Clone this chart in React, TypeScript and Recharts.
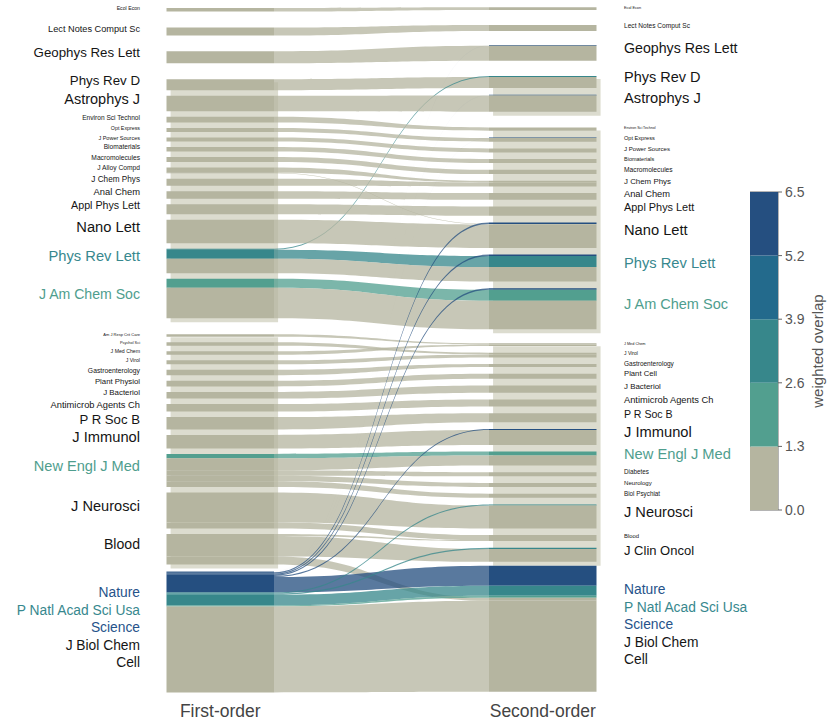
import React from 'react';
import { ComposedChart, Area, Scatter, XAxis, YAxis, BarChart, Bar, ReferenceArea } from 'recharts';

const FONT = '"Liberation Sans", Arial, Helvetica, sans-serif';
const TOP5 = 'Nature|P Natl Acad Sci Usa|Science|J Biol Chem|Cell';

const columnTitles = ['First-order', 'Second-order'];

const firstOrderModules: string[][] = [
  ['Ecol Econ'],
  ['Lect Notes Comput Sc'],
  ['Geophys Res Lett'],
  ['Phys Rev D', 'Astrophys J', 'Environ Sci Technol', 'Opt Express', 'J Power Sources', 'Biomaterials',
    'Macromolecules', 'J Alloy Compd', 'J Chem Phys', 'Anal Chem', 'Appl Phys Lett', 'Nano Lett',
    'Phys Rev Lett', 'J Am Chem Soc'],
  ['Am J Resp Crit Care', 'Psychol Sci', 'J Med Chem', 'J Virol', 'Gastroenterology', 'Plant Physiol',
    'J Bacteriol', 'Antimicrob Agents Ch', 'P R Soc B', 'J Immunol', 'New Engl J Med', 'J Neurosci', 'Blood'],
  [TOP5],
];

const secondOrderModules: string[][] = [
  ['Ecol Econ'],
  ['Lect Notes Comput Sc'],
  ['Geophys Res Lett'],
  ['Phys Rev D', 'Astrophys J'],
  ['Environ Sci Technol', 'Opt Express', 'J Power Sources', 'Biomaterials', 'Macromolecules', 'J Chem Phys',
    'Anal Chem', 'Appl Phys Lett', 'Nano Lett', 'Phys Rev Lett', 'J Am Chem Soc'],
  ['J Med Chem', 'J Virol', 'Gastroenterology', 'Plant Cell', 'J Bacteriol', 'Antimicrob Agents Ch', 'P R Soc B',
    'J Immunol', 'New Engl J Med', 'Diabetes', 'Neurology', 'Biol Psychiat', 'J Neurosci', 'Blood', 'J Clin Oncol'],
  [TOP5],
];

// [first-order journal, second-order journal, share at first order, share at second order, weighted overlap]
const flowRows: [string, string, number, number, number][] = [
  ['Ecol Econ', 'Ecol Econ', 3.6, 2.7, 0.6],
  ['Lect Notes Comput Sc', 'Lect Notes Comput Sc', 8, 6, 0.7],
  ['Geophys Res Lett', 'Geophys Res Lett', 12, 15, 0.9],
  ['Phys Rev D', 'Phys Rev D', 11, 11, 0.8],
  ['Phys Rev Lett', 'Phys Rev D', 1, 1, 3.1],
  ['Astrophys J', 'Astrophys J', 15.6, 16.3, 0.9],
  ['Environ Sci Technol', 'Environ Sci Technol', 5.8, 3.3, 0.4],
  ['Opt Express', 'Opt Express', 4, 3.6, 0.5],
  ['J Power Sources', 'J Power Sources', 4, 4, 0.4],
  ['Biomaterials', 'Biomaterials', 4.4, 4, 0.5],
  ['Macromolecules', 'Macromolecules', 4.9, 4.3, 0.6],
  ['J Alloy Compd', 'J Chem Phys', 5.3, 1.6, 0.3],
  ['J Alloy Compd', 'Nano Lett', 0.5, 0.5, 0.4],
  ['J Chem Phys', 'J Chem Phys', 7, 4, 0.8],
  ['Anal Chem', 'Anal Chem', 7.5, 6.6, 0.7],
  ['Appl Phys Lett', 'Appl Phys Lett', 10, 9.3, 0.9],
  ['Nano Lett', 'Nano Lett', 23.5, 23.5, 1.1],
  ['Phys Rev Lett', 'Phys Rev Lett', 9, 11, 3.4],
  ['Phys Rev Lett', 'Phys Rev Lett', 14.6, 14.5, 0.9],
  ['J Am Chem Soc', 'J Am Chem Soc', 9, 11, 2.1],
  ['J Am Chem Soc', 'J Am Chem Soc', 30.4, 28.5, 1.0],
  ['Am J Resp Crit Care', 'J Med Chem', 2.6, 1.2, 0.2],
  ['Psychol Sci', 'J Virol', 3.5, 1.7, 0.2],
  ['J Med Chem', 'J Med Chem', 3.5, 1.5, 0.5],
  ['J Virol', 'J Virol', 4, 3, 0.6],
  ['Gastroenterology', 'Gastroenterology', 5.5, 3, 0.6],
  ['Plant Physiol', 'Plant Cell', 5.6, 5, 0.5],
  ['J Bacteriol', 'J Bacteriol', 6.7, 7.3, 0.8],
  ['Antimicrob Agents Ch', 'Antimicrob Agents Ch', 7.5, 7, 0.8],
  ['P R Soc B', 'P R Soc B', 12.3, 9, 0.7],
  ['J Immunol', 'J Immunol', 13.5, 14.8, 1.0],
  ['New Engl J Med', 'New Engl J Med', 4.4, 4, 2.0],
  ['New Engl J Med', 'New Engl J Med', 12, 10, 0.9],
  ['New Engl J Med', 'Diabetes', 5.5, 4, 0.4],
  ['New Engl J Med', 'Neurology', 5.5, 4, 0.4],
  ['New Engl J Med', 'Biol Psychiat', 5.6, 4, 0.3],
  ['J Neurosci', 'J Neurosci', 30, 22.8, 1.1],
  ['J Neurosci', 'Blood', 6, 5, 0.3],
  ['Blood', 'Blood', 2, 1, 0.5],
  ['Blood', 'J Clin Oncol', 20.5, 12.8, 0.6],
  ['Blood', TOP5, 8, 3, 0.3],
  [TOP5, 'Geophys Res Lett', 0.3, 0.7, 6.0],
  [TOP5, 'Astrophys J', 0.3, 0.7, 5.9],
  [TOP5, 'Opt Express', 0.3, 0.7, 5.8],
  [TOP5, 'Nano Lett', 1.2, 1.5, 6.1],
  [TOP5, 'Phys Rev Lett', 1.2, 1.5, 6.2],
  [TOP5, 'J Am Chem Soc', 1.2, 1.5, 6.0],
  [TOP5, 'J Immunol', 1.2, 1.2, 5.9],
  [TOP5, TOP5, 15.3, 20, 6.3],
  [TOP5, 'J Neurosci', 1.2, 1.2, 3.2],
  [TOP5, 'J Clin Oncol', 1.2, 1.2, 3.0],
  [TOP5, TOP5, 10.6, 10, 3.5],
  [TOP5, TOP5, 1, 2, 2.0],
  [TOP5, TOP5, 86, 91, 0.8],
];

// journal-level weighted overlap (label colour)
const journalOverlap: Record<string, number> = {
  'Phys Rev Lett': 3.4,
  'J Am Chem Soc': 2.1,
  'New Engl J Med': 2.0,
  Nature: 6.1,
  'P Natl Acad Sci Usa': 3.3,
  Science: 5.6,
};

const overlapBreaks = [0, 1.3, 2.6, 3.9, 5.2, 6.5];

// ---------- styling / layout ----------
const CLASS_COLORS = ['#b5b5a0', '#529f8f', '#37878b', '#236a8c', '#254f80'];
const LABEL_COLORS = ['#151515', '#4f9e8e', '#37888e', '#236a8c', '#26538a'];
const SHADOW = '#dcdccf';
const COL_X = [[-0.5, 0], [1, 1.5]];
const SHADOW_DX = 0.019;
const START_Y = [8, 7.3];
const NODE_GAP = [5.5, 6.7];
const MODULE_GAP = [[16, 15.6, 16, 16, 7], [15, 14, 15.3, 15.7, 14, 4]];
const LIST_FS = 13.8;
const LABEL_FS: Record<string, number>[] = [
  {
    'Ecol Econ': 5.2, 'Lect Notes Comput Sc': 9.2, 'Geophys Res Lett': 13.3, 'Phys Rev D': 13.3, 'Astrophys J': 14.5,
    'Environ Sci Technol': 6.6, 'Opt Express': 5.3, 'J Power Sources': 5.5, Biomaterials: 6.6, Macromolecules: 6.7,
    'J Alloy Compd': 6.7, 'J Chem Phys': 8.2, 'Anal Chem': 9.4, 'Appl Phys Lett': 10.7, 'Nano Lett': 14.7,
    'Phys Rev Lett': 14.7, 'J Am Chem Soc': 14.1, 'Am J Resp Crit Care': 4, 'Psychol Sci': 3.9, 'J Med Chem': 5.2,
    'J Virol': 5.2, Gastroenterology: 6.8, 'Plant Physiol': 7.8, 'J Bacteriol': 7.9, 'Antimicrob Agents Ch': 9.3,
    'P R Soc B': 13.2, 'J Immunol': 14.7, 'New Engl J Med': 14.6, 'J Neurosci': 14.6, Blood: 14.1,
  },
  {
    'Ecol Econ': 3.8, 'Lect Notes Comput Sc': 6.6, 'Geophys Res Lett': 14.2, 'Phys Rev D': 14.5, 'Astrophys J': 14.7,
    'Environ Sci Technol': 3.6, 'Opt Express': 5.6, 'J Power Sources': 6.1, Biomaterials: 5.5, Macromolecules: 6.7,
    'J Chem Phys': 7.9, 'Anal Chem': 9.3, 'Appl Phys Lett': 10.9, 'Nano Lett': 14.7, 'Phys Rev Lett': 14.7,
    'J Am Chem Soc': 14.5, 'J Med Chem': 3.8, 'J Virol': 5, Gastroenterology: 6.5, 'Plant Cell': 7.7, 'J Bacteriol': 7.9,
    'Antimicrob Agents Ch': 9.3, 'P R Soc B': 10.6, 'J Immunol': 14.7, 'New Engl J Med': 14.7, Diabetes: 6.3,
    Neurology: 6.1, 'Biol Psychiat': 6.3, 'J Neurosci': 14.6, Blood: 5.9, 'J Clin Oncol': 13,
  },
];

const classOf = (v: number) => Math.min(4, Math.floor(v / 1.3));

type Flow = { s: string; t: string; wl: number; wr: number; ov: number; i: number; cls: number; ly0?: number; ly1?: number; ry0?: number; ry1?: number };
type NodeBox = { name: string; y0: number; y1: number };

const flows: Flow[] = flowRows.map(([s, t, wl, wr, ov], i) => ({ s, t, wl, wr, ov, i, cls: classOf(ov) }));

function sizes(side: number) {
  const m = new Map<string, number>();
  flows.forEach((f) => {
    const k = side === 0 ? f.s : f.t;
    m.set(k, (m.get(k) || 0) + (side === 0 ? f.wl : f.wr));
  });
  return m;
}

function layout(side: number, modules: string[][]) {
  const sz = sizes(side);
  const nodes: NodeBox[] = [];
  const mods: { top: number; bottom: number; count: number }[] = [];
  let y = START_Y[side];
  modules.forEach((mod, mi) => {
    if (mi > 0) y += MODULE_GAP[side][mi - 1];
    const top = y;
    mod.forEach((name, ni) => {
      if (ni > 0) y += NODE_GAP[side];
      const h = sz.get(name) || 0;
      nodes.push({ name, y0: y, y1: y + h });
      y += h;
    });
    mods.push({ top, bottom: y, count: mod.length });
  });
  return { nodes, mods };
}

const cols = [layout(0, firstOrderModules), layout(1, secondOrderModules)];

// assign flow segment positions inside nodes
const segments: { side: number; y0: number; y1: number; cls: number }[] = [];
cols.forEach((col, side) => {
  col.nodes.forEach((n) => {
    const fl = flows
      .filter((f) => (side === 0 ? f.s : f.t) === n.name)
      .sort((a, b) => b.cls - a.cls || a.i - b.i);
    let y = n.y0;
    fl.forEach((f) => {
      const w = side === 0 ? f.wl : f.wr;
      if (side === 0) { f.ly0 = y; f.ly1 = y + w; } else { f.ry0 = y; f.ry1 = y + w; }
      segments.push({ side, y0: y, y1: y + w, cls: f.cls });
      y += w;
    });
  });
});

const labelRows: { x: number; y: number; text: string; fs: number; color: string; side: number }[] = [];
cols.forEach((col, side) => {
  col.nodes.forEach((n) => {
    const names = n.name.split('|');
    const c = (n.y0 + n.y1) / 2;
    const h = n.y1 - n.y0;
    names.forEach((nm, k) => {
      const fs = names.length > 1 ? LIST_FS : LABEL_FS[side][nm] ?? Math.min(14.7, h + 1.5);
      labelRows.push({
        x: side === 0 ? COL_X[0][0] : COL_X[1][1],
        y: c + (k - (names.length - 1) / 2) * 17.5 + 0.02 * fs,
        text: nm,
        fs,
        color: LABEL_COLORS[classOf(journalOverlap[nm] || 0)],
        side,
      });
    });
  });
});

const renderLabel = (p: any) => {
  const d = p.payload;
  return (
    <text
      x={p.cx + (d.side === 0 ? -26.5 : 27.5)}
      y={p.cy}
      textAnchor={d.side === 0 ? 'end' : 'start'}
      fontSize={d.fs}
      fill={d.color}
      fontFamily={FONT}
    >
      {d.text}
    </text>
  );
};

const common = { isAnimationActive: false, dot: false, activeDot: false, stroke: 'none', dataKey: 'v' } as const;

const cbRow: Record<string, any> = { name: 'c' };
overlapBreaks.slice(1).forEach((b, i) => { cbRow['b' + i] = b - overlapBreaks[i]; });
const cbData = [cbRow];

export default function App() {
  return (
    <div style={{ position: 'absolute', left: 0, top: 0, width: 830, height: 722, background: '#fff' }}>
      <ComposedChart width={830} height={722} margin={{ top: 0, right: 229.2, bottom: 0, left: 166.5 }}>
        <XAxis
          type="number"
          dataKey="x"
          domain={[-0.5, 1.52]}
          ticks={[-0.25, 1.25]}
          interval={0}
          tickFormatter={(v: number) => (v < 0.5 ? columnTitles[0] : columnTitles[1])}
          axisLine={false}
          tickLine={false}
          tickSize={0}
          tickMargin={5}
          height={22}
          tick={{ fontSize: 17.5, fill: '#444', fontFamily: FONT }}
        />
        <YAxis type="number" domain={[0, 700]} reversed hide />
        {cols.map((col, side) =>
          col.mods
            .filter((m) => m.count > 1)
            .map((m, k) => (
              <Area
                key={`sh${side}-${k}`}
                {...common}
                type="linear"
                data={[
                  { x: COL_X[side][0] + SHADOW_DX, v: [m.top + 3, m.bottom + 4] },
                  { x: COL_X[side][1] + SHADOW_DX, v: [m.top + 3, m.bottom + 4] },
                ]}
                fill={SHADOW}
                fillOpacity={1}
              />
            ))
        )}
        {flows.map((f) => {
          const faint = f.cls >= 1 && Math.max(f.wl, f.wr) < 1;
          return (
            <Area
              key={`f${f.i}`}
              {...common}
              type="bumpX"
              data={[
                { x: COL_X[0][1], v: [f.ly0, f.ly1] },
                { x: COL_X[1][0], v: [f.ry0, f.ry1] },
              ]}
              fill={CLASS_COLORS[f.cls]}
              fillOpacity={faint ? 0.03 : 0.76}
            />
          );
        })}
        {segments.map((s, k) => (
          <Area
            key={`s${k}`}
            {...common}
            type="linear"
            data={[
              { x: COL_X[s.side][0], v: [s.y0, s.y1] },
              { x: COL_X[s.side][1], v: [s.y0, s.y1] },
            ]}
            fill={CLASS_COLORS[s.cls]}
            fillOpacity={1}
          />
        ))}
        <Scatter data={labelRows} dataKey="y" shape={renderLabel} isAnimationActive={false} />
      </ComposedChart>
      <div style={{ position: 'absolute', left: 750, top: 184 }}>
        <BarChart width={80} height={334} data={cbData} margin={{ top: 8, right: 0, bottom: 8, left: 0 }} barCategoryGap={0}>
          <XAxis dataKey="name" hide />
          <YAxis
            type="number"
            orientation="right"
            domain={[0, 6.5]}
            ticks={overlapBreaks}
            interval={0}
            tickFormatter={(v: number) => v.toFixed(1)}
            axisLine={false}
            tickLine={{ stroke: '#666' }}
            tickSize={4}
            tickMargin={3}
            width={52}
            tick={{ fontSize: 14, fill: '#555', fontFamily: FONT }}
            label={{ value: 'weighted overlap', angle: -90, position: 'center', dx: 14, style: { fontSize: 15, fill: '#555', fontFamily: FONT } }}
          />
          {overlapBreaks.slice(1).map((_, i) => (
            <Bar key={i} dataKey={'b' + i} stackId="a" fill={CLASS_COLORS[i]} isAnimationActive={false} />
          ))}
          <ReferenceArea y1={0} y2={6.5} fill="none" stroke="#6b6b6b" strokeWidth={1} ifOverflow="visible" />
        </BarChart>
      </div>
    </div>
  );
}
